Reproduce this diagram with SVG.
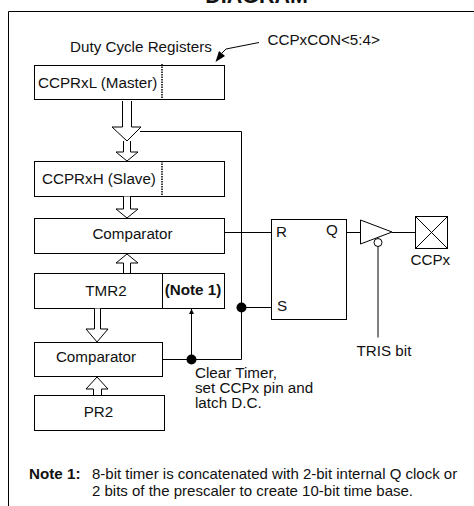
<svg xmlns="http://www.w3.org/2000/svg" width="474" height="506" viewBox="0 0 474 506">
<style>
text{font-family:"Liberation Sans",Arial,sans-serif;font-size:15.2px;fill:#111}
.b{font-weight:bold}
.m{text-anchor:middle}
.s{font-size:15px}
.n{fill:#fff;stroke:#000;stroke-width:1}
.l{fill:none;stroke:#000;stroke-width:1}
.d{stroke:#000;stroke-width:1.5;stroke-dasharray:1.5 1;fill:none}
.h{fill:#fff;stroke:#000;stroke-width:1}
</style>
<defs>
<marker id="a" markerWidth="6" markerHeight="6" refX="5" refY="3" orient="auto"><path d="M0 0.5L5 3L0 5.5z" fill="#000"/></marker>
</defs>
<text class="b m" x="256.500" y="3" style="font-size:21.500px">DIAGRAM</text>
<path class="l" d="M474 11.500H8.500V506"/>
<g id="ccprxl"><rect class="n" x="34.500" y="65.500" width="190" height="34"/><path class="d" d="M162 64V100"/><text x="38" y="88">CCPRxL (Master)</text></g>
<g id="ccprxh"><rect class="n" x="34.500" y="161.500" width="190" height="35"/><path class="d" d="M162 161V196"/><text x="42" y="184">CCPRxH (Slave)</text></g>
<g id="comparator1"><rect class="n" x="34.500" y="218.500" width="190" height="35"/><text class="m" x="132.500" y="239">Comparator</text></g>
<g id="tmr2"><rect class="n" x="34.500" y="273.500" width="190" height="35"/><path class="l" d="M162.500 273.500V308.500"/><text class="m" x="106" y="296">TMR2</text><text class="b m" x="193" y="295">(Note 1)</text></g>
<g id="comparator2"><rect class="n" x="34.500" y="342.500" width="128" height="34"/><text class="m" x="96" y="362">Comparator</text></g>
<g id="pr2"><rect class="n" x="34.500" y="395.500" width="130" height="35"/><text class="m" x="98.500" y="417">PR2</text></g>
<g id="latch"><rect class="n" x="271.500" y="219.500" width="75" height="100"/><text x="276" y="237">R</text><text x="326" y="235">Q</text><text x="277" y="311">S</text></g>
<g id="buffer"><path class="n" d="M360.500 220L392 232L360.500 244z"/><circle class="n" cx="378" cy="242.500" r="4"/></g>
<g id="ccpx"><rect class="n" x="415.500" y="216.500" width="32" height="32"/><path class="l" d="M415.500 216.500L447.500 248.500M447.500 216.500L415.500 248.500"/><text x="410.500" y="265">CCPx</text></g>
<g id="connectors">
<path class="h" d="M122.500 101V127H112L127 141L141 127H131.500V101"/>
<path class="h" d="M123.500 141V152H116L127 161L138 152H130.500V141"/>
<path class="h" d="M123.500 196.500V209H116L127 218L138 209H130.500V196.500"/>
<path class="h" d="M123.500 273V263H116L127 254L138 263H130.500V273"/>
<path class="h" d="M94.500 308.500V329H86L97 342L108 329H100.500V308.500"/>
<path class="h" d="M93.500 395V389H86L97 377L108 389H101.500V395"/>
<path class="l" d="M140 131.500H241.500V359.500H163"/>
<path class="l" d="M224.500 232.500H271.500M241.500 307.500H271.500M346.500 232.500H360.500M392 232.500H415.500M378 246.500V337.500"/>
<path class="l" d="M191.500 359V309" marker-end="url(#a)"/>
<circle cx="241.500" cy="307.500" r="5"/><circle cx="191.500" cy="359.500" r="5"/>
<path class="l" d="M259 42.500L226 49L222 53" stroke-width="0.8"/>
<path d="M215.500 62L219 51L225 56z"/>
</g>
<text x="70" y="52">Duty Cycle Registers</text>
<text x="267.500" y="45">CCPxCON&lt;5:4&gt;</text>
<text x="195" y="378">Clear Timer,</text>
<text x="195" y="393">set CCPx pin and</text>
<text x="195" y="408">latch D.C.</text>
<text x="356.500" y="356">TRIS bit</text>
<text class="b" x="29" y="479">Note 1:</text>
<text class="s" x="92" y="479">8-bit timer is concatenated with 2-bit internal Q clock or</text>
<text class="s" x="92" y="496">2 bits of the prescaler to create 10-bit time base.</text>
</svg>
